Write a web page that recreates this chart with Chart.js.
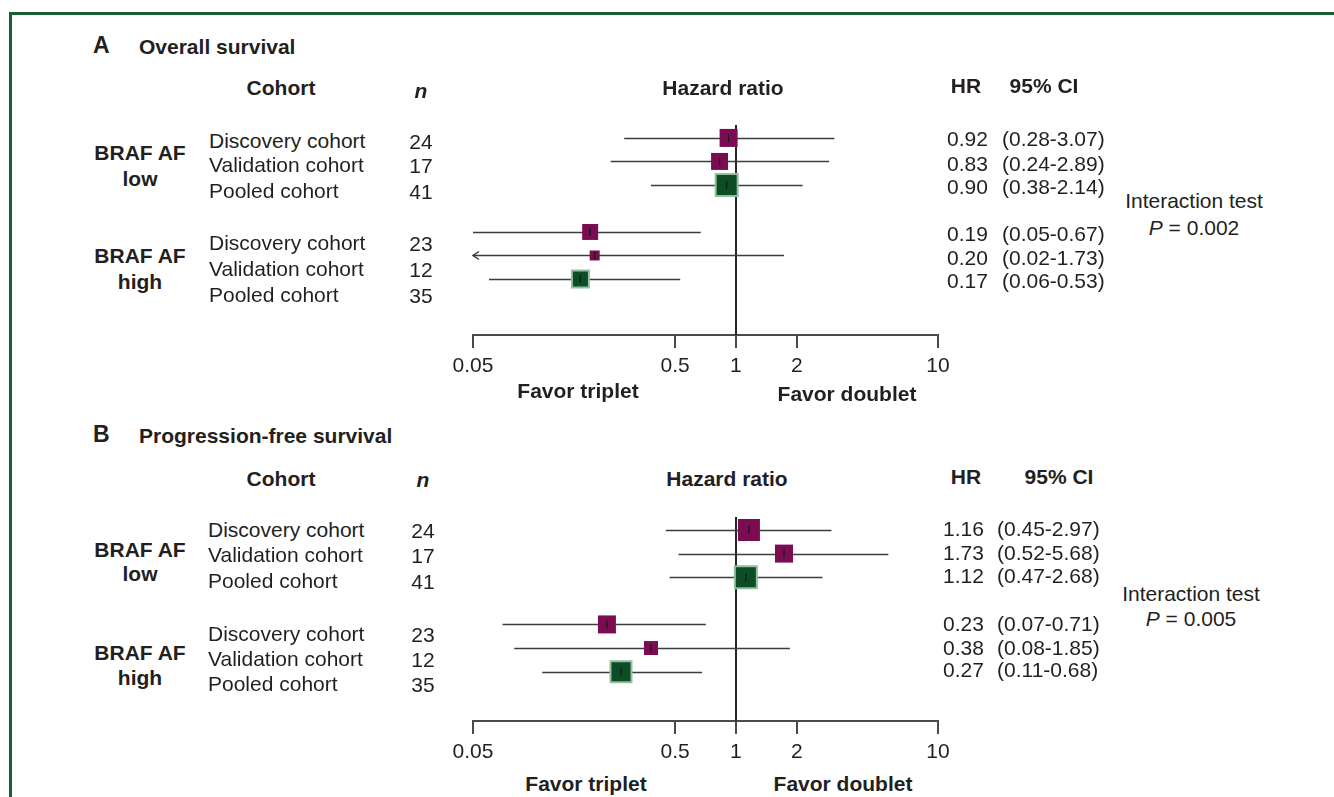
<!DOCTYPE html>
<html>
<head>
<meta charset="utf-8">
<script src="https://cdn.jsdelivr.net/npm/chart.js@4.4.1/dist/chart.umd.min.js"></script>
<style>
  html, body { margin: 0; padding: 0; background: #fff; }
  body { width: 1334px; height: 797px; position: relative; overflow: hidden;
         font-family: "Liberation Sans", Arial, Helvetica, sans-serif; color: #231f20; }
  .frame { position: absolute; left: 9px; top: 12px; width: 1330px; height: 800px;
           border-top: 3px solid #1b5e36; border-left: 3px solid #1b5e36; box-sizing: border-box; }
  .t { position: absolute; white-space: nowrap; font-size: 21px; line-height: 1; }
  .b { font-weight: bold; }
  .cv { position: absolute; left: 400px; }
</style>
</head>
<body>
<div class="frame"></div>
<canvas id="chartA" class="cv" width="600" height="280" style="top:100px;width:600px;height:280px"></canvas>
<canvas id="chartB" class="cv" width="600" height="274" style="top:492px;width:600px;height:274px"></canvas>
<script>
// ---------------- DATA ----------------
const rowPos = [0, 1, 2, 4, 5, 6];
const cohortNames = ["Discovery cohort", "Validation cohort", "Pooled cohort",
                     "Discovery cohort", "Validation cohort", "Pooled cohort"];
const isPooled = [false, false, true, false, false, true];
const groupNames = [["BRAF AF", "low"], ["BRAF AF", "high"]];
const nValues = [24, 17, 41, 23, 12, 35];

const osHR    = [0.92, 0.83, 0.90, 0.19, 0.20, 0.17];
const osLower = [0.28, 0.24, 0.38, 0.05, 0.02, 0.06];
const osUpper = [3.07, 2.89, 2.14, 0.67, 1.73, 0.53];
const osWeight = [18, 17, 22, 16, 10, 17];
const osP = "0.002";

const pfsHR    = [1.16, 1.73, 1.12, 0.23, 0.38, 0.27];
const pfsLower = [0.45, 0.52, 0.47, 0.07, 0.08, 0.11];
const pfsUpper = [2.97, 5.68, 2.68, 0.71, 1.85, 0.68];
const pfsWeight = [22, 18, 22, 18, 14, 21];
const pfsP = "0.005";

const xTicks = [0.05, 0.5, 1, 2, 10];
const xMin = 0.05, xMax = 10;

// ---------------- STYLE ----------------
const PURPLE = "#7b0c52";
const GREEN = "#0c4d26";
const GREEN_EDGE = "#93bf9f";
const INK = "#231f20";

// ---------------- TEXT HELPERS ----------------
function label(html, x, y, opts = {}) {
  const d = document.createElement("div");
  d.className = "t" + (opts.bold ? " b" : "");
  d.innerHTML = html;
  if (opts.size) d.style.fontSize = opts.size + "px";
  if (opts.italic) d.style.fontStyle = "italic";
  const align = opts.align || "left";
  const tx = align === "center" ? "-50%" : (align === "right" ? "-100%" : "0");
  d.style.left = x + "px";
  d.style.top = y + "px";
  d.style.transform = `translate(${tx}, -50%)`;
  document.body.appendChild(d);
}

function drawPanelText(p, title, hr, lo, up, pval) {
  label(title[0], 93, p.titleY, { bold: true, size: 23 });
  label(title[1], 139, p.titleY + 1, { bold: true, size: 21 });
  label("Cohort", 281, p.headY, { bold: true, align: "center" });
  label("n", p.nX, p.nHeadY, { bold: true, italic: true, align: "center" });
  label("Hazard ratio", p.hazX, p.headY, { bold: true, align: "center" });
  label("HR", 966, p.hrHeadY, { bold: true, align: "center" });
  label("95% CI", p.ciHeadX, p.hrHeadY, { bold: true, align: "center" });
  groupNames.forEach((g, i) => {
    label(g[0], 140, p.groupY[i][0], { bold: true, align: "center" });
    label(g[1], 140, p.groupY[i][1], { bold: true, align: "center" });
  });
  cohortNames.forEach((c, i) => {
    label(c, p.nameX, p.nameY[i]);
    label(String(nValues[i]), p.nX, p.nameY[i] + 1, { align: "center" });
    label(hr[i].toFixed(2), p.hrX, p.valY[i]);
    label(`(${lo[i].toFixed(2)}-${up[i].toFixed(2)})`, p.ciX, p.valY[i]);
  });
  label("Interaction test", p.interX, p.interY[0], { align: "center" });
  label(`<i>P</i> = ${pval}`, p.interX, p.interY[1], { align: "center" });
  label("Favor triplet", p.favorX[0], p.favorY[0], { bold: true, align: "center" });
  label("Favor doublet", p.favorX[1], p.favorY[1], { bold: true, align: "center" });
}

const layoutA = { titleY: 45, headY: 87, nHeadY: 90, nX: 421, hazX: 723, hrHeadY: 85, ciHeadX: 1044,
  groupY: [[152, 178], [255, 281]], nameX: 209, nameY: [140, 164, 190, 242, 268, 294],
  hrX: 947, ciX: 1002, valY: [138, 163, 186, 233, 257, 280],
  interX: 1194, interY: [200, 227], favorX: [578, 847], favorY: [390, 393] };
const layoutB = { titleY: 434, headY: 478, nHeadY: 479, nX: 423, hazX: 727, hrHeadY: 476, ciHeadX: 1059,
  groupY: [[549, 573], [652, 677]], nameX: 208, nameY: [529, 554, 580, 633, 658, 683],
  hrX: 943, ciX: 997, valY: [528, 552, 575, 623, 647, 669],
  interX: 1191, interY: [593, 618], favorX: [586, 843], favorY: [783, 783] };

drawPanelText(layoutA, ["A", "Overall survival"], osHR, osLower, osUpper, osP);
drawPanelText(layoutB, ["B", "Progression-free survival"], pfsHR, pfsLower, pfsUpper, pfsP);

// ---------------- CHARTS ----------------
function forestPlugin(hr, lo, up) {
  return {
    id: "forest",
    beforeDatasetsDraw(chart) {
      const { ctx, chartArea, scales: { x, y } } = chart;
      ctx.save();
      // reference line at HR = 1
      const x1 = Math.round(x.getPixelForValue(1));
      ctx.strokeStyle = "#262626";
      ctx.lineWidth = 2;
      ctx.beginPath();
      ctx.moveTo(x1, chartArea.top);
      ctx.lineTo(x1, chartArea.bottom);
      ctx.stroke();
      // confidence intervals
      ctx.strokeStyle = "#3d3d3d";
      ctx.lineWidth = 1.5;
      rowPos.forEach((r, i) => {
        const yy = Math.round(y.getPixelForValue(r)) + 0.5;
        const clipped = lo[i] < xMin;
        const xa = x.getPixelForValue(Math.max(lo[i], xMin));
        const xb = x.getPixelForValue(Math.min(up[i], xMax));
        ctx.beginPath();
        ctx.moveTo(xa, yy);
        ctx.lineTo(xb, yy);
        ctx.stroke();
        if (clipped) {
          ctx.beginPath();
          ctx.moveTo(xa + 6, yy - 4);
          ctx.lineTo(xa, yy);
          ctx.lineTo(xa + 6, yy + 4);
          ctx.stroke();
        }
      });
      ctx.restore();
    },
    afterDatasetsDraw(chart) {
      const { ctx, scales: { x, y } } = chart;
      ctx.save();
      ctx.strokeStyle = "#1a1a1a";
      ctx.lineWidth = 1.3;
      rowPos.forEach((r, i) => {
        const xx = x.getPixelForValue(hr[i]);
        const yy = y.getPixelForValue(r);
        ctx.beginPath();
        ctx.moveTo(xx, yy - 4);
        ctx.lineTo(xx, yy + 4);
        ctx.stroke();
      });
      ctx.restore();
    }
  };
}

function makeChart(id, hr, lo, up, weight, yMax) {
  return new Chart(document.getElementById(id), {
    type: "scatter",
    data: {
      datasets: [{
        data: hr.map((v, i) => ({ x: v, y: rowPos[i] })),
        pointStyle: "rect",
        pointRadius: weight.map(w => w / (2 * Math.SQRT1_2)),
        pointHoverRadius: weight.map(w => w / (2 * Math.SQRT1_2)),
        backgroundColor: isPooled.map(p => p ? GREEN : PURPLE),
        borderColor: isPooled.map(p => p ? GREEN_EDGE : PURPLE),
        borderWidth: isPooled.map(p => p ? 2 : 0),
        clip: false
      }]
    },
    options: {
      responsive: false,
      animation: false,
      events: [],
      layout: { padding: { left: 73, right: 62, top: 25, bottom: 0 } },
      plugins: { legend: { display: false }, tooltip: { enabled: false } },
      scales: {
        x: {
          type: "logarithmic",
          min: xMin, max: xMax,
          afterBuildTicks: (s) => { s.ticks = xTicks.map(v => ({ value: v })); },
          afterFit: (s) => { s.height = 45; },
          ticks: {
            autoSkip: false, maxRotation: 0, padding: 6,
            color: INK,
            font: { family: "'Liberation Sans', Arial, sans-serif", size: 21 },
            callback: (v) => String(v)
          },
          grid: { display: true, drawOnChartArea: false, drawTicks: true, tickLength: 13,
                  color: "#4a4a4a", lineWidth: 2 },
          border: { display: true, color: "#4a4a4a", width: 2 }
        },
        y: {
          type: "linear", display: false, reverse: true,
          min: -0.55, max: yMax
        }
      }
    },
    plugins: [forestPlugin(hr, lo, up)]
  });
}

makeChart("chartA", osHR, osLower, osUpper, osWeight, 8.383);
makeChart("chartB", pfsHR, pfsLower, pfsUpper, pfsWeight, 8.09);
</script>
</body>
</html>
